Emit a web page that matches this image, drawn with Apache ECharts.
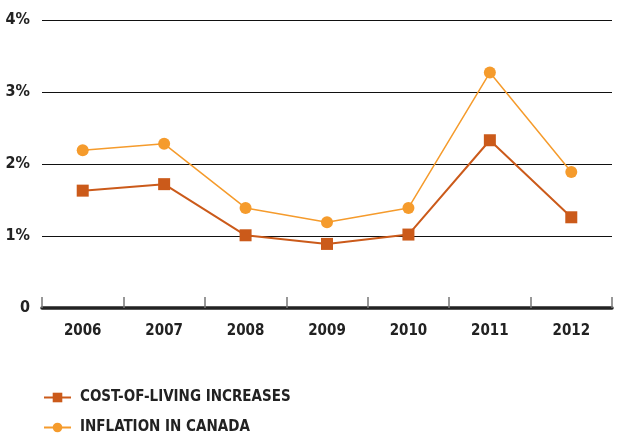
<!DOCTYPE html>
<html><head><meta charset="utf-8">
<script src="https://cdn.jsdelivr.net/npm/echarts@6/dist/echarts.min.js"></script>
<style>html,body{margin:0;padding:0;background:#fff}#c{width:618px;height:435px}</style>
</head><body><div id="c"></div>
<script>
const years = ['2006','2007','2008','2009','2010','2011','2012'];
const costOfLiving = [1.63, 1.72, 1.01, 0.89, 1.02, 2.33, 1.26];
const inflation = [2.19, 2.28, 1.39, 1.19, 1.39, 3.27, 1.89];
const yTicks = [0, 1, 2, 3, 4];
const seriesNames = ['COST-OF-LIVING INCREASES', 'INFLATION IN CANADA'];

const font = '"DejaVu Sans Condensed", "Liberation Sans Narrow", sans-serif';
const legendBase = {
  left: 38, itemWidth: 27, itemHeight: 12,
  textStyle: { fontFamily: font, fontWeight: 'bold', fontSize: 15, color: '#222', padding: [0,0,0,4] }
};
const chart = echarts.init(document.getElementById('c'));
chart.setOption({
  animation: false,
  grid: { left: 42, right: 6, top: 20, bottom: 127 },
  legend: [
    Object.assign({}, legendBase, { top: 385, data: [seriesNames[0]] }),
    Object.assign({}, legendBase, { top: 415, data: [seriesNames[1]] })
  ],
  xAxis: {
    type: 'category', data: years, boundaryGap: true,
    axisLine: { lineStyle: { color: '#222', width: 3.5 } },
    axisTick: { show: true, inside: true, length: 11, lineStyle: { color: '#777', width: 1.5 } },
    axisLabel: { fontFamily: font, fontWeight: 'bold', fontSize: 15, color: '#222', margin: 16 }
  },
  yAxis: {
    type: 'value', min: 0, max: 4, interval: 1,
    axisLine: { show: false }, axisTick: { show: false },
    splitLine: { lineStyle: { color: '#111', width: 1.2 } },
    axisLabel: { fontFamily: font, fontWeight: 'bold', fontSize: 16, color: '#222', margin: 12,
      formatter: v => yTicks.includes(v) ? (v === 0 ? '0' : v + '%') : '' }
  },
  series: [
    { name: seriesNames[0], type: 'line', data: costOfLiving, symbol: 'rect', symbolSize: 12,
      itemStyle: { color: '#CB5A1A' }, lineStyle: { color: '#CB5A1A', width: 2 } },
    { name: seriesNames[1], type: 'line', data: inflation, symbol: 'circle', symbolSize: 12,
      itemStyle: { color: '#F59B2C' }, lineStyle: { color: '#F59B2C', width: 1.5 } }
  ]
});
</script></body></html>
